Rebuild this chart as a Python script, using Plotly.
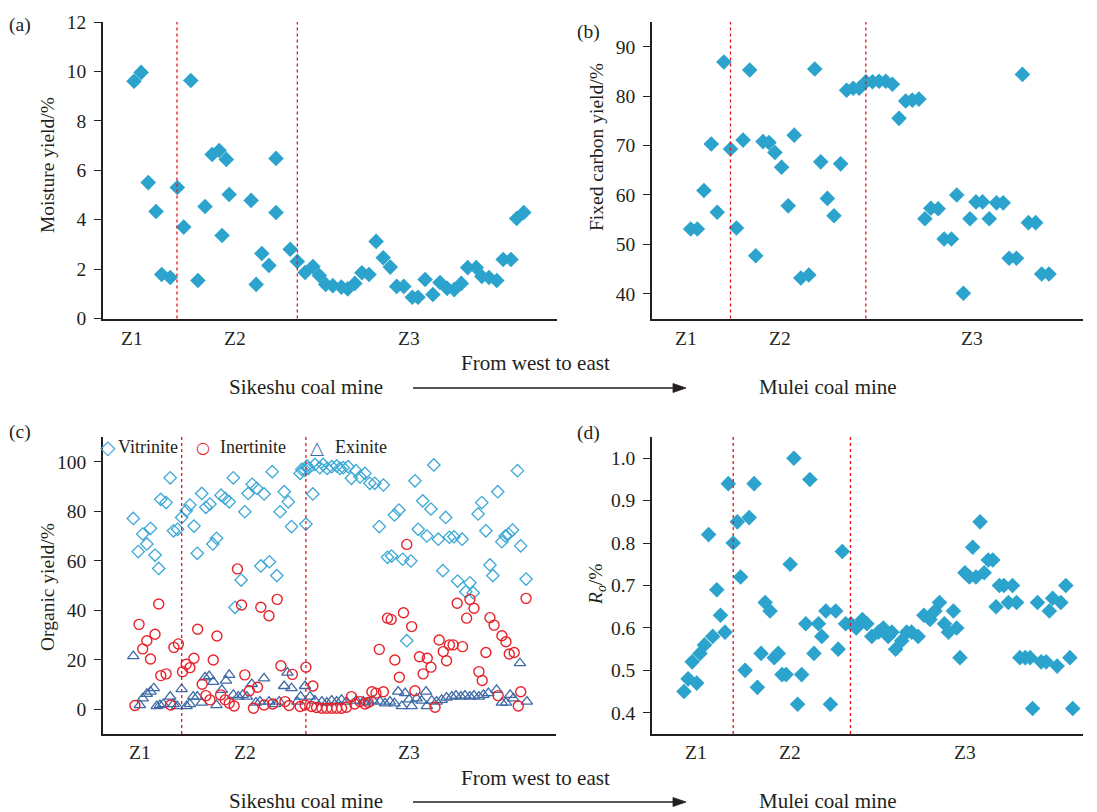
import plotly.graph_objects as go

W, H = 1097, 812
FONT = "Liberation Serif, Times New Roman, serif"
INK = "#231f20"
DIAMOND_BLUE = "#2ba3cc"
ZONE_RED = "#e3161e"
VIT_COLOR = "#3aa8d6"
INE_COLOR = "#e8222a"
EXI_COLOR = "#3d6aa6"

# ---------------- data ----------------
# (a) moisture yield, % (x = sample position along the profile)
moist_pos = [1.0, 2.0, 3.0, 4.1, 4.9, 6.1, 7.1, 8.0, 9.0, 10.0,
             11.0, 12.0, 13.0, 13.4, 14.0, 14.4, 17.5, 18.2, 19.0, 20.0,
             21.0, 21.0, 23.0, 24.0, 25.1, 26.2, 27.1, 28.0, 29.0, 30.2,
             31.1, 32.1, 33.1, 34.1, 35.1, 36.1, 37.1, 38.0, 39.0, 40.2,
             41.0, 42.0, 43.1, 44.1, 45.1, 46.1, 47.1, 48.0, 49.2, 50.0,
             51.0, 52.1, 53.0, 54.1, 54.9, 55.9]
moist_val = [9.6, 9.96, 5.5, 4.33, 1.78, 1.66, 5.3, 3.7, 9.63, 1.54,
             4.53, 6.64, 6.8, 3.36, 6.44, 5.02, 4.78, 1.38, 2.63, 2.15,
             6.48, 4.29, 2.8, 2.31, 1.86, 2.1, 1.74, 1.38, 1.33, 1.27,
             1.2, 1.42, 1.85, 1.78, 3.12, 2.46, 2.08, 1.3, 1.3, 0.86,
             0.86, 1.58, 0.97, 1.46, 1.22, 1.17, 1.42, 2.06, 2.06, 1.7,
             1.66, 1.54, 2.39, 2.39, 4.05, 4.29]

# (b) fixed carbon yield, %
fc_pos = [1.0, 2.0, 3.0, 4.1, 5.0, 6.0, 7.0, 7.9, 8.9, 9.9,
          10.8, 11.9, 12.8, 13.7, 14.7, 15.7, 16.6, 17.6, 18.8, 19.7,
          20.6, 21.6, 22.6, 23.6, 24.5, 25.5, 26.4, 27.4, 28.4, 29.4,
          30.4, 31.4, 32.4, 33.4, 34.4, 35.4, 36.3, 37.2, 38.3, 39.2,
          40.3, 41.1, 42.1, 43.1, 44.0, 45.0, 46.0, 47.1, 48.1, 49.0,
          50.1, 51.0, 51.9, 53.0, 53.9, 55.0]
fc_val = [53.1, 53.1, 60.9, 70.3, 56.5, 86.9, 69.3, 53.3, 71.1, 85.3,
          47.7, 70.8, 70.6, 68.6, 65.6, 57.8, 72.1, 43.2, 43.8, 85.5,
          66.7, 59.3, 55.8, 66.3, 81.2, 81.6, 81.6, 82.9, 82.9, 83.0,
          83.0, 82.4, 75.5, 79.0, 79.2, 79.4, 55.2, 57.3, 57.2, 51.1,
          51.1, 60.0, 40.1, 55.2, 58.6, 58.6, 55.2, 58.4, 58.4, 47.2,
          47.2, 84.4, 54.4, 54.4, 44.0, 44.0]

# (c) maceral composition, %
vit_pos = [1.0, 2.2, 3.3, 4.3, 5.2, 6.3, 7.2, 7.7, 9.0, 10.0,
           10.8, 11.8, 12.8, 13.9, 14.8, 15.8, 16.6, 17.7, 18.7, 19.7,
           20.4, 21.3, 22.4, 23.4, 24.4, 25.4, 25.8, 27.3, 28.2, 29.0,
           30.0, 31.1, 32.1, 32.9, 34.2, 34.9, 36.0, 36.8, 37.8, 38.8,
           39.6, 41.7, 42.1, 42.9, 43.1, 43.4, 43.7, 44.8, 45.3, 46.5,
           47.3, 48.3, 49.4, 50.6, 51.4, 52.2, 53.4, 54.2, 55.3, 56.3,
           57.5, 58.7, 59.9, 61.0, 62.0, 63.0, 64.0, 64.7, 65.8, 66.7,
           67.7, 68.7, 69.7, 70.5, 71.6, 72.6, 73.6, 74.3, 75.4, 76.5,
           77.2, 78.1, 79.2, 80.1, 81.2, 82.1, 83.1, 83.9, 85.1, 86.0,
           87.0, 88.0, 88.7, 89.9, 90.9, 91.7, 92.5, 93.5, 94.7, 95.5,
           96.8]
vit_val = [77.1, 63.7, 70.8, 66.8, 73.1, 62.3, 56.9, 84.8, 83.5, 93.5,
           72.1, 72.7, 77.5, 80.2, 82.5, 74.0, 63.0, 87.2, 81.6, 82.9,
           66.8, 69.1, 86.5, 85.2, 83.8, 93.5, 41.2, 52.2, 79.8, 87.2,
           90.9, 89.3, 57.9, 87.0, 59.6, 96.0, 54.0, 79.8, 87.9, 83.8,
           73.8, 95.3, 96.9, 96.6, 74.8, 98.3, 97.3, 87.0, 98.9, 97.6,
           98.9, 97.3, 98.0, 98.3, 97.3, 97.6, 98.0, 93.3, 96.4, 93.9,
           95.3, 91.3, 91.3, 73.8, 90.6, 61.4, 61.9, 78.5, 80.5, 60.6,
           27.7, 59.9, 92.3, 72.7, 84.2, 70.0, 80.9, 98.7, 68.7, 56.0,
           77.5, 69.5, 69.7, 51.8, 68.7, 47.5, 51.1, 47.1, 78.9, 83.5,
           72.1, 58.3, 54.0, 87.9, 67.7, 70.0, 70.8, 72.4, 96.4, 66.0,
           52.6]

ine_pos = [1.4, 2.4, 3.3, 4.3, 5.2, 6.3, 7.2, 7.7, 9.0, 10.1,
           10.9, 12.0, 13.0, 13.9, 14.8, 15.8, 16.7, 17.8, 18.7, 19.7,
           20.5, 21.4, 22.3, 23.4, 24.4, 25.6, 26.4, 27.4, 28.2, 29.3,
           30.3, 31.3, 32.1, 32.9, 34.1, 35.0, 36.1, 37.0, 38.0, 39.0,
           39.8, 41.7, 42.9, 43.1, 44.5, 44.8, 45.7, 47.0, 48.2, 49.4,
           50.6, 51.8, 53.0, 54.2, 55.0, 56.3, 57.5, 58.3, 59.2, 60.2,
           61.0, 62.0, 63.0, 63.9, 64.8, 65.9, 66.9, 67.7, 68.9, 69.7,
           70.8, 71.7, 72.7, 73.6, 74.6, 75.6, 76.6, 77.4, 78.1, 79.0,
           80.0, 81.3, 82.3, 83.1, 84.1, 85.3, 86.1, 87.0, 88.0, 89.0,
           90.0, 90.9, 91.9, 92.7, 93.9, 94.9, 95.5, 96.8]
ine_val = [1.5, 34.3, 24.4, 27.7, 20.3, 30.3, 42.5, 13.6, 14.3, 1.7,
           25.0, 26.4, 15.2, 18.2, 16.8, 20.6, 32.3, 10.1, 5.5, 3.8,
           19.9, 29.6, 5.8, 3.8, 2.4, 1.3, 56.7, 42.1, 13.9, 7.5,
           0.4, 8.9, 41.2, 1.7, 37.8, 2.1, 44.4, 17.6, 3.1, 1.5,
           14.1, 1.1, 1.7, 17.0, 1.1, 9.4, 0.7, 0.4, 0.4, 0.4,
           0.4, 0.4, 0.8, 5.1, 2.1, 3.1, 2.1, 2.7, 7.1, 6.5,
           24.2, 7.1, 36.8, 36.3, 19.9, 12.9, 39.0, 66.6, 33.4, 7.5,
           21.2, 14.3, 20.6, 17.0, 0.8, 28.0, 23.3, 19.6, 26.0, 26.0,
           42.8, 25.3, 36.8, 44.4, 40.8, 15.2, 11.6, 22.9, 37.0, 34.0,
           5.5, 29.7, 27.3, 22.3, 22.9, 1.3, 7.1, 44.8]

exi_pos = [1.0, 2.6, 3.3, 4.3, 5.2, 6.0, 6.7, 7.5, 8.3, 10.0,
           10.8, 11.7, 12.8, 14.0, 14.8, 15.6, 16.6, 17.7, 18.5, 19.5,
           20.5, 21.3, 22.6, 23.6, 24.4, 25.4, 26.6, 27.7, 28.7, 29.9,
           30.9, 31.9, 32.9, 34.1, 35.6, 36.6, 37.8, 38.6, 39.6, 41.0,
           41.8, 42.9, 44.1, 45.3, 47.0, 48.2, 49.4, 50.6, 51.8, 53.0,
           55.4, 57.1, 58.3, 59.5, 61.2, 62.4, 63.6, 64.7, 65.6, 66.5,
           67.3, 68.3, 68.9, 70.1, 71.3, 72.4, 72.6, 73.8, 75.0, 76.2,
           77.4, 78.7, 79.7, 80.9, 81.9, 83.1, 84.1, 85.3, 86.4, 87.6,
           89.6, 90.9, 91.9, 92.9, 93.7, 95.3, 97.0]
exi_val = [21.5, 1.7, 4.4, 6.2, 7.1, 8.5, 1.3, 1.7, 2.1, 5.1,
           2.1, 1.3, 8.1, 1.3, 2.1, 5.1, 5.1, 2.7, 12.9, 13.4,
           11.1, 1.7, 7.8, 11.6, 13.9, 5.8, 5.1, 5.8, 5.1, 10.2,
           2.7, 3.1, 12.5, 3.1, 2.1, 3.1, 9.4, 14.8, 8.5, 3.1,
           5.1, 9.4, 5.1, 3.5, 3.1, 2.7, 3.5, 3.1, 3.8, 3.1,
           3.5, 3.1, 2.7, 3.5, 3.1, 2.4, 3.1, 2.4, 7.1, 1.3,
           6.5, 4.0, 1.3, 4.4, 3.5, 7.1, 1.3, 3.5, 3.1, 3.8,
           4.7, 5.1, 5.5, 5.1, 5.5, 5.1, 5.5, 5.1, 5.8, 6.5,
           7.8, 2.7, 2.7, 5.8, 4.4, 18.6, 3.1]

# (d) vitrinite reflectance Ro, %
ro_pos = [1.0, 2.0, 3.0, 4.1, 4.9, 6.0, 7.0, 8.0, 9.0, 9.9,
          11.0, 11.8, 13.0, 14.0, 14.8, 15.9, 16.9, 18.1, 18.9, 19.8,
          20.8, 22.0, 23.0, 24.0, 24.9, 25.9, 26.9, 27.8, 28.7, 29.7,
          30.7, 31.7, 32.7, 33.8, 34.6, 35.6, 36.7, 38.0, 38.6, 39.6,
          40.4, 41.7, 43.0, 44.5, 45.6, 46.8, 48.4, 49.6, 50.8, 51.7,
          52.6, 54.1, 55.3, 56.5, 58.1, 59.5, 61.0, 62.2, 63.3, 64.5,
          65.5, 66.7, 67.5, 68.3, 69.5, 70.6, 71.4, 72.2, 73.2, 74.2,
          75.2, 76.3, 77.1, 77.9, 79.0, 80.1, 81.1, 82.1, 82.9, 84.2,
          85.4, 86.0, 87.2, 88.1, 89.3, 90.1, 90.9, 92.0, 92.9, 94.1,
          95.1, 95.8]
ro_val = [0.45, 0.48, 0.52, 0.47, 0.54, 0.56, 0.82, 0.58, 0.69, 0.63,
          0.59, 0.94, 0.80, 0.85, 0.72, 0.50, 0.86, 0.94, 0.46, 0.54,
          0.66, 0.64, 0.53, 0.54, 0.49, 0.49, 0.75, 1.00, 0.42, 0.49,
          0.61, 0.95, 0.54, 0.61, 0.58, 0.64, 0.42, 0.64, 0.55, 0.78,
          0.61, 0.61, 0.60, 0.62, 0.61, 0.58, 0.59, 0.60, 0.58, 0.59,
          0.55, 0.57, 0.59, 0.59, 0.58, 0.63, 0.62, 0.64, 0.66, 0.61,
          0.59, 0.64, 0.60, 0.53, 0.73, 0.72, 0.79, 0.72, 0.85, 0.73,
          0.76, 0.76, 0.65, 0.70, 0.70, 0.66, 0.70, 0.66, 0.53, 0.53,
          0.53, 0.41, 0.66, 0.52, 0.52, 0.64, 0.67, 0.51, 0.66, 0.70,
          0.53, 0.41]

# zone labels, their positions and the zone boundaries for each panel
zone_names = ["Z1", "Z2", "Z3"]
zone_label_pos = {
    "a": [0.7, 15.2, 39.7],
    "b": [0.3, 14.5, 43.4],
    "c": [2.6, 28.2, 68.2],
    "d": [3.9, 26.9, 69.5],
}
zone_bounds = {
    "a": [7.05, 24.0],
    "b": [7.0, 27.4],
    "c": [12.8, 43.1],
    "d": [13.0, 41.6],
}

# ---------------- layout helpers ----------------
def px_x(p):
    return p / W


def px_y(p):
    return 1 - p / H


# panel boxes in pixels: left, right, top, bottom
boxes = {
    "a": (103, 557, 22, 318.5),
    "b": (652, 1083, 22, 318.5),
    "c": (103, 556, 437, 734),
    "d": (652, 1083, 437, 734),
}
axis_ids = {"a": ("x", "y"), "b": ("x2", "y2"), "c": ("x3", "y3"), "d": ("x4", "y4")}
x_ranges = {"a": [-3.37, 60.58], "b": [-4.83, 60.13], "c": [-6.39, 104.1], "d": [-6.8, 98.3]}
y_specs = {
    "a": dict(range=[0, 12], tick0=0, dtick=2, tickformat="d"),
    "b": dict(range=[35, 95], tick0=40, dtick=10, tickformat="d"),
    "c": dict(range=[-10, 110], tick0=0, dtick=20, tickformat="d"),
    "d": dict(range=[0.35, 1.05], tick0=0.4, dtick=0.1, tickformat=".1f"),
}

fig = go.Figure()

diamond_style = dict(symbol="diamond", size=12, color=DIAMOND_BLUE, line=dict(width=0))
fig.add_trace(go.Scatter(x=moist_pos, y=moist_val, mode="markers", marker=diamond_style,
                         xaxis="x", yaxis="y", showlegend=False, cliponaxis=False))
fig.add_trace(go.Scatter(x=fc_pos, y=fc_val, mode="markers", marker=diamond_style,
                         xaxis="x2", yaxis="y2", showlegend=False, cliponaxis=False))
fig.add_trace(go.Scatter(x=vit_pos, y=vit_val, mode="markers", name="Vitrinite",
                         marker=dict(symbol="diamond-open", size=9.5, color=VIT_COLOR,
                                     line=dict(width=1.3, color=VIT_COLOR)),
                         xaxis="x3", yaxis="y3", showlegend=False, cliponaxis=False))
fig.add_trace(go.Scatter(x=exi_pos, y=exi_val, mode="markers", name="Exinite",
                         marker=dict(symbol="triangle-up-open", size=10, color=EXI_COLOR,
                                     line=dict(width=1.3, color=EXI_COLOR)),
                         xaxis="x3", yaxis="y3", showlegend=False, cliponaxis=False))
fig.add_trace(go.Scatter(x=ine_pos, y=ine_val, mode="markers", name="Inertinite",
                         marker=dict(symbol="circle-open", size=10, color=INE_COLOR,
                                     line=dict(width=1.4, color=INE_COLOR)),
                         xaxis="x3", yaxis="y3", showlegend=False, cliponaxis=False))
fig.add_trace(go.Scatter(x=ro_pos, y=ro_val, mode="markers", marker=diamond_style,
                         xaxis="x4", yaxis="y4", showlegend=False, cliponaxis=False))

layout = dict(
    width=W, height=H,
    margin=dict(l=0, r=0, t=0, b=0, autoexpand=False),
    paper_bgcolor="white", plot_bgcolor="white",
    font=dict(family=FONT, size=19, color=INK),
    showlegend=False,
)

shapes = []
annotations = []

for key, (l, r, t, b) in boxes.items():
    xid, yid = axis_ids[key]
    xname = "xaxis" + xid[1:]
    yname = "yaxis" + yid[1:]
    layout[xname] = dict(
        domain=[px_x(l), px_x(r)], range=x_ranges[key], anchor=yid,
        showline=True, linecolor=INK, linewidth=1.6, ticks="",
        showticklabels=False, showgrid=False, zeroline=False, fixedrange=True,
        automargin=False,
    )
    spec = y_specs[key]
    layout[yname] = dict(
        domain=[px_y(b), px_y(t)], range=spec["range"], anchor=xid,
        showline=True, linecolor=INK, linewidth=1.6,
        ticks="outside", ticklen=7, tickwidth=1.3, tickcolor=INK,
        tickmode="linear", tick0=spec["tick0"], dtick=spec["dtick"],
        tickformat=spec["tickformat"],
        tickfont=dict(family=FONT, size=19.5, color=INK),
        ticklabelstandoff=4,
        showgrid=False, zeroline=False, fixedrange=True, automargin=False,
    )
    # dotted zone boundaries
    for xb in zone_bounds[key]:
        shapes.append(dict(type="line", xref=xid, yref=yid + " domain",
                           x0=xb, x1=xb, y0=0, y1=1,
                           line=dict(color=ZONE_RED, width=1.3, dash="dot")))
    # zone labels under the axis
    label_y = 338 if key in ("a", "b") else 752
    for name, pos in zip(zone_names, zone_label_pos[key]):
        annotations.append(dict(xref=xid, yref="paper", x=pos, y=px_y(label_y),
                                text=name, showarrow=False, xanchor="center",
                                yanchor="middle", font=dict(family=FONT, size=19.5, color=INK)))

# panel tags
for tag, (x, y) in {"(a)": (20, 25), "(b)": (588, 32), "(c)": (20, 432), "(d)": (588, 433)}.items():
    annotations.append(dict(xref="paper", yref="paper", x=px_x(x), y=px_y(y), text=tag,
                            showarrow=False, xanchor="center", yanchor="middle",
                            font=dict(family=FONT, size=19.5, color=INK)))

# y-axis titles
ytitles = [
    ("Moisture yield/%", 47, 165),
    ("Fixed carbon yield/%", 597, 147),
    ("Organic yield/%", 47, 587),
    ("<i>R</i><sub><i>o</i></sub>/%", 597, 585),
]
for text, x, y in ytitles:
    annotations.append(dict(xref="paper", yref="paper", x=px_x(x), y=px_y(y), text=text,
                            textangle=-90, showarrow=False, xanchor="center", yanchor="middle",
                            font=dict(family=FONT, size=19.5, color=INK)))

# profile direction captions and west-to-east arrow under each row
for y_dir, y_mine in ((363, 387), (778, 801)):
    annotations.append(dict(xref="paper", yref="paper", x=px_x(535), y=px_y(y_dir),
                            text="From west to east", showarrow=False,
                            xanchor="center", yanchor="middle",
                            font=dict(family=FONT, size=21, color=INK)))
    annotations.append(dict(xref="paper", yref="paper", x=px_x(306), y=px_y(y_mine),
                            text="Sikeshu coal mine", showarrow=False,
                            xanchor="center", yanchor="middle",
                            font=dict(family=FONT, size=21, color=INK)))
    annotations.append(dict(xref="paper", yref="paper", x=px_x(828), y=px_y(y_mine),
                            text="Mulei coal mine", showarrow=False,
                            xanchor="center", yanchor="middle",
                            font=dict(family=FONT, size=21, color=INK)))
    ya = y_mine + 1
    shapes.append(dict(type="line", xref="paper", yref="paper",
                       x0=px_x(413), x1=px_x(676), y0=px_y(ya), y1=px_y(ya),
                       line=dict(color=INK, width=1.3)))
    head = "M {},{} L {},{} L {},{} Z".format(
        px_x(686), px_y(ya), px_x(673), px_y(ya - 4.5), px_x(673), px_y(ya + 4.5))
    shapes.append(dict(type="path", xref="paper", yref="paper", path=head,
                       fillcolor=INK, line=dict(color=INK, width=0.8)))

# legend for panel (c): coloured key glyph followed by its name
legend_items = [
    ("◇", VIT_COLOR, 20, 108, "Vitrinite", 116),
    ("○", INE_COLOR, 16, 203, "Inertinite", 218),
    ("△", EXI_COLOR, 18, 317, "Exinite", 333),
]
for glyph, color, gsize, gx, name, tx in legend_items:
    annotations.append(dict(xref="paper", yref="paper", x=px_x(gx), y=px_y(447), text=glyph,
                            showarrow=False, xanchor="center", yanchor="middle",
                            font=dict(family="DejaVu Sans", size=gsize, color=color)))
    annotations.append(dict(xref="paper", yref="paper", x=px_x(tx), y=px_y(447), text=name,
                            showarrow=False, xanchor="left", yanchor="middle",
                            font=dict(family=FONT, size=18, color=INK)))

layout["shapes"] = shapes
layout["annotations"] = annotations
fig.update_layout(**layout)

fig.write_html("out.html", include_plotlyjs=True, config={"displayModeBar": False})
